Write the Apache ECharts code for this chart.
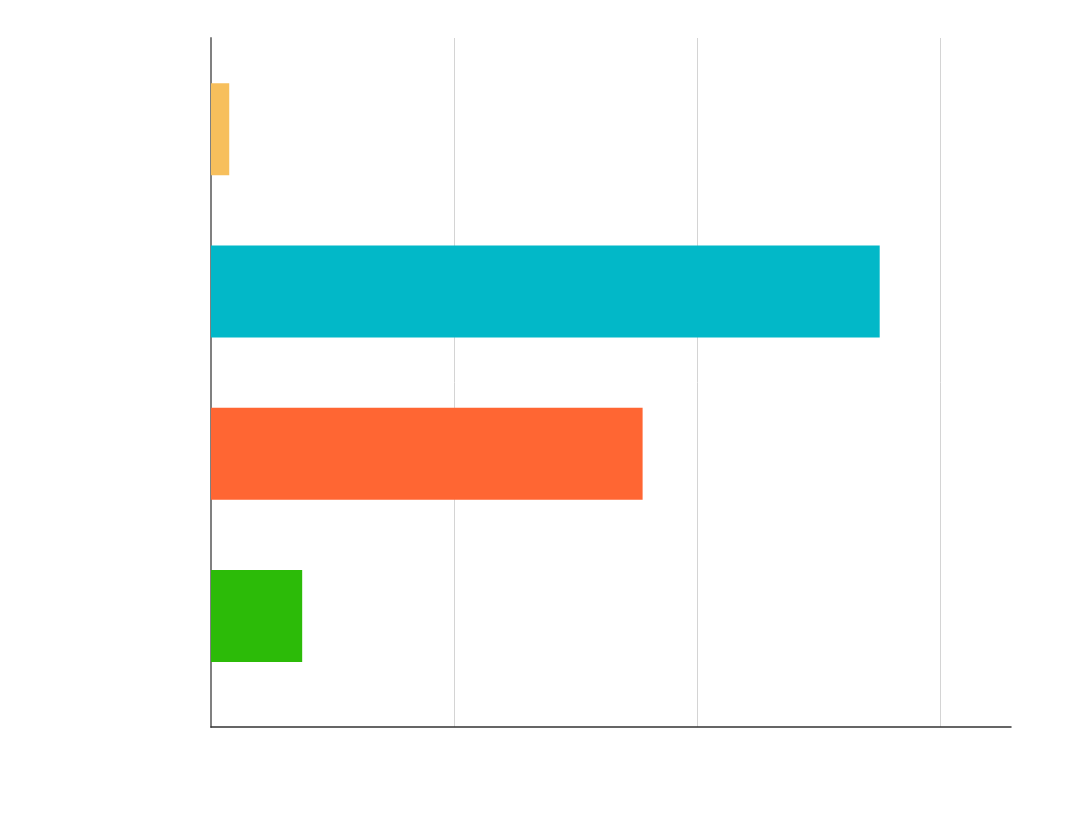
<!DOCTYPE html>
<html lang="en">
<head>
	<meta charset="UTF-8">
	<title>Chart</title>
	<script type="text/javascript" src="https://cdn.jsdelivr.net/npm/echarts@6/dist/echarts.min.js"></script>
	<style type="text/css">
		html,body{margin:0;padding:0;background:#fff;}
	</style>
</head>
<body>
	<div id="main" style="width:1080px;height:825px;"></div>
	<script>
		// data, top to bottom
		var categories = ['A', 'B', 'C', 'D'];
		var values = [1.5, 55, 35.5, 7.5];
		var barColors = ['#f7bf5c', '#02b8c8', '#ff6633', '#2cbb08'];
		var xTicks = [0, 20, 40, 60];
		var xMax = 65.8;

		var chart = echarts.init(document.getElementById('main'));
		var option = {
			backgroundColor: '#fff',
			animation: false,
			grid: [
				{left: 211, right: 69, top: 38, bottom: 98},   // axis lines + grid lines
				{left: 211, right: 69, top: 48, bottom: 128}   // bars
			],
			xAxis: [{
				type: 'value',
				gridIndex: 0,
				min: xTicks[0],
				max: xMax,
				interval: xTicks[1] - xTicks[0],
				axisLine: {show: true, lineStyle: {color: '#333', width: 1.5}},
				axisTick: {show: false},
				axisLabel: {color: '#fff', fontFamily: 'Roboto', fontSize: 13, showMaxLabel: false},
				splitLine: {show: true, showMaxLine: false, lineStyle: {color: '#d4d4d4', width: 1}}
			}, {
				type: 'value',
				gridIndex: 1,
				min: xTicks[0],
				max: xMax,
				show: false
			}],
			yAxis: [{
				type: 'category',
				gridIndex: 0,
				data: categories,
				axisLine: {show: true, lineStyle: {color: '#808080', width: 2}},
				axisTick: {show: false},
				axisLabel: {show: false},
				splitLine: {show: false}
			}, {
				type: 'category',
				gridIndex: 1,
				inverse: true,
				data: categories,
				axisLine: {show: false},
				axisTick: {show: false},
				axisLabel: {color: '#fff', fontFamily: 'Roboto', fontSize: 13},
				splitLine: {show: false}
			}],
			series: [{
				type: 'bar',
				xAxisIndex: 1,
				yAxisIndex: 1,
				barWidth: 92,
				data: values.map(function (v, i) {
					return {value: v, itemStyle: {color: barColors[i]}};
				}),
				label: {
					show: true,
					position: 'right',
					color: '#fff',
					fontFamily: 'Roboto',
					fontSize: 13
				}
			}]
		};
		chart.setOption(option);
	</script>
</body>
</html>
